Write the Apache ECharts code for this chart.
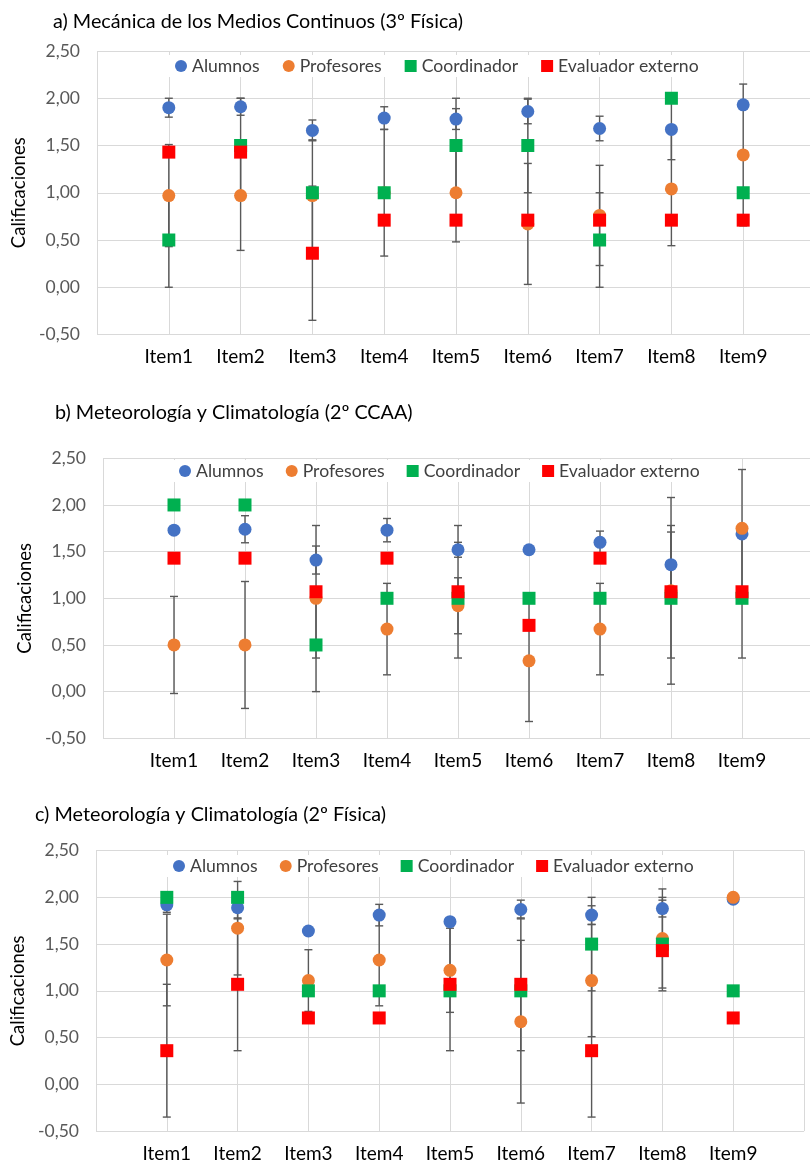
<!DOCTYPE html>
<html>
<head>
<meta charset="utf-8">
<script src="https://cdn.jsdelivr.net/npm/echarts@6/dist/echarts.min.js"></script>
<style>
  html, body { margin: 0; padding: 0; overflow: hidden; background: #fff; }
  #chart { width: 830px; height: 1164px; }
</style>
</head>
<body>
<div id="chart"></div>
<script>
// Items evaluated (x positions 1..9)
const items = ['Item1', 'Item2', 'Item3', 'Item4', 'Item5', 'Item6', 'Item7', 'Item8', 'Item9'];
const seriesNames = ['Alumnos', 'Profesores', 'Coordinador', 'Evaluador externo'];
const titles = [
  'a) Mecánica de los Medios Continuos (3º Física)',
  'b) Meteorología y Climatología (2º CCAA)',
  'c) Meteorología y Climatología (2º Física)'
];

// a) Mecánica de los Medios Continuos (3º Física)
const alumnosA     = [1.90, 1.91, 1.66, 1.79, 1.78, 1.86, 1.68, 1.67, 1.93];
const profesoresA  = [0.97, 0.97, 0.97, 1.00, 1.00, 0.67, 0.76, 1.04, 1.40];
const coordinadorA = [0.50, 1.50, 1.00, 1.00, 1.50, 1.50, 0.50, 2.00, 1.00];
const evaluadorA   = [1.43, 1.43, 0.36, 0.71, 0.71, 0.71, 0.71, 0.71, 0.71];
const errAlumnosA     = [0.10, 0.09, 0.11, 0.12, 0.11, 0.13, 0.13, 0.32, 0];
const errProfesoresA  = [0.54, 0.58, 0.59, 0.67, 0.52, 0.64, 0.53, 0.60, 0.75];
const errCoordinadorA = [0.50, 0.50, 0, 0, 0.50, 0.50, 0.50, 0, 0];
const errEvaluadorA   = [0, 0, 0.71, 0, 0, 0, 0, 0, 0];

// b) Meteorología y Climatología (2º CCAA)
const alumnosB     = [1.73, 1.74, 1.41, 1.73, 1.52, 1.52, 1.60, 1.36, 1.69];
const profesoresB  = [0.50, 0.50, 1.00, 0.67, 0.92, 0.33, 0.67, 1.08, 1.75];
const coordinadorB = [2.00, 2.00, 0.50, 1.00, 1.00, 1.00, 1.00, 1.00, 1.00];
const evaluadorB   = [1.43, 1.43, 1.07, 1.43, 1.07, 0.71, 1.43, 1.07, 1.07];
const errAlumnosB     = [0, 0.145, 0.15, 0.125, 0.08, 0, 0.12, 0.35, 0];
const errProfesoresB  = [0.52, 0.68, 0, 0.49, 0.30, 0.65, 0.49, 1.00, 0.63];
const errCoordinadorB = [0, 0, 0.50, 0, 0, 0, 0, 0, 0];
const errEvaluadorB   = [0, 0, 0.71, 0, 0.71, 0, 0, 0.71, 0.71];

// c) Meteorología y Climatología (2º Física)
const alumnosC     = [1.92, 1.89, 1.64, 1.81, 1.74, 1.87, 1.81, 1.88, 1.98];
const profesoresC  = [1.33, 1.67, 1.11, 1.33, 1.22, 0.67, 1.11, 1.56, 2.00];
const coordinadorC = [2.00, 2.00, 1.00, 1.00, 1.00, 1.00, 1.50, 1.50, 1.00];
const evaluadorC   = [0.36, 1.07, 0.71, 0.71, 1.07, 1.07, 0.36, 1.43, 0.71];
const errAlumnosC     = [0.08, 0.12, 0, 0.115, 0, 0.10, 0.10, 0.09, 0];
const errProfesoresC  = [0.49, 0.50, 0.33, 0.49, 0.45, 0.87, 0.60, 0.53, 0];
const errCoordinadorC = [0, 0, 0, 0, 0, 0, 0.50, 0.50, 0];
const errEvaluadorC   = [0.71, 0.71, 0, 0, 0.71, 0.71, 0.71, 0, 0];

const panelValues = [
  [alumnosA, profesoresA, coordinadorA, evaluadorA],
  [alumnosB, profesoresB, coordinadorB, evaluadorB],
  [alumnosC, profesoresC, coordinadorC, evaluadorC]
];
const panelErrors = [
  [errAlumnosA, errProfesoresA, errCoordinadorA, errEvaluadorA],
  [errAlumnosB, errProfesoresB, errCoordinadorB, errEvaluadorB],
  [errAlumnosC, errProfesoresC, errCoordinadorC, errEvaluadorC]
];

// Layout of the three stacked panels
const layout = [
  { grid: { left: 97, top: 51, width: 718, height: 283.5 }, titleLeft: 53, titleTop: 9, legendLeft: 165, legendTop: 55, legendGap: 23, nameGap: 67 },
  { grid: { left: 103, top: 458.3, width: 710, height: 280 }, titleLeft: 55, titleTop: 400, legendLeft: 169, legendTop: 460, legendGap: 22, nameGap: 67 },
  { grid: { left: 96, top: 850.6, width: 708, height: 280.5 }, titleLeft: 35, titleTop: 802, legendLeft: 163, legendTop: 855, legendGap: 22, nameGap: 67 }
];

const colors = ['#4472C4', '#ED7D31', '#00B050', '#FF0000'];
const symbols = ['circle', 'circle', 'rect', 'rect'];
const FONT = 'Lato, "Open Sans", sans-serif';
const GRID_COLOR = '#d9d9d9';

function renderErrorBar(params, api) {
  const x = api.value(0), v = api.value(1), e = api.value(2);
  const hi = api.coord([x, v + e]);
  const lo = api.coord([x, v - e]);
  const cap = 4;
  const style = { stroke: '#595959', lineWidth: 1.4 };
  return {
    type: 'group',
    children: [
      { type: 'line', shape: { x1: hi[0], y1: hi[1], x2: lo[0], y2: lo[1] }, style: style },
      { type: 'line', shape: { x1: hi[0] - cap, y1: hi[1], x2: hi[0] + cap, y2: hi[1] }, style: style },
      { type: 'line', shape: { x1: lo[0] - cap, y1: lo[1], x2: lo[0] + cap, y2: lo[1] }, style: style }
    ]
  };
}

const option = {
  animation: false,
  backgroundColor: '#fff',
  title: [], legend: [], grid: [], xAxis: [], yAxis: [], series: []
};

layout.forEach((L, p) => {
  option.title.push({
    text: titles[p], left: L.titleLeft, top: L.titleTop, padding: 0,
    textStyle: { fontFamily: FONT, fontSize: 19.8, fontWeight: 'normal', color: '#000', lineHeight: 26 }
  });
  option.grid.push(Object.assign({ containLabel: false }, L.grid));
  option.xAxis.push({
    type: 'value', gridIndex: p, min: 0, max: 10, interval: 1,
    axisLine: { show: false }, axisTick: { show: false },
    splitLine: { show: true, lineStyle: { color: GRID_COLOR, width: 1 } },
    axisLabel: {
      margin: 13, fontFamily: FONT, fontSize: 19, color: '#000',
      formatter: v => (v >= 1 && v <= items.length) ? items[v - 1] : ''
    }
  });
  option.yAxis.push({
    type: 'value', gridIndex: p, min: -0.5, max: 2.5, interval: 0.5,
    name: 'Calificaciones', nameLocation: 'middle', nameGap: L.nameGap, nameRotate: 90,
    nameTextStyle: { fontFamily: FONT, fontSize: 18.5, color: '#000' },
    axisLine: { show: false }, axisTick: { show: false },
    splitLine: { show: true, lineStyle: { color: GRID_COLOR, width: 1 } },
    axisLabel: {
      margin: 17, fontFamily: FONT, fontSize: 17.5, color: '#595959',
      formatter: v => v.toFixed(2).replace('.', ',')
    }
  });
  option.legend.push({
    left: L.legendLeft, top: L.legendTop, orient: 'horizontal',
    backgroundColor: '#fff', padding: [1, 2, 1, 10],
    itemWidth: 12, itemHeight: 12, itemGap: L.legendGap,
    selectedMode: false,
    textStyle: { fontFamily: FONT, fontSize: 17.6, color: '#404040', lineHeight: 20 },
    data: seriesNames.map((n, k) => ({ name: n, icon: symbols[k] }))
  });

  // error bars underneath the markers
  seriesNames.forEach((n, k) => {
    const vals = panelValues[p][k], errs = panelErrors[p][k];
    const data = [];
    vals.forEach((v, i) => { if (errs[i] > 0) data.push([i + 1, v, errs[i]]); });
    if (!data.length) return;
    option.series.push({
      type: 'custom', name: 'err-' + p + '-' + k, xAxisIndex: p, yAxisIndex: p,
      renderItem: renderErrorBar, data: data, z: 1, silent: true,
      encode: { x: 0, y: 1 }
    });
  });
  seriesNames.forEach((n, k) => {
    option.series.push({
      type: 'scatter', name: n, xAxisIndex: p, yAxisIndex: p,
      symbol: symbols[k], symbolSize: 13, z: 2,
      itemStyle: { color: colors[k], opacity: 1 },
      data: panelValues[p][k].map((v, i) => [i + 1, v])
    });
  });
});

const chart = echarts.init(document.getElementById('chart'), null, { renderer: 'canvas' });
chart.setOption(option);
</script>
</body>
</html>
